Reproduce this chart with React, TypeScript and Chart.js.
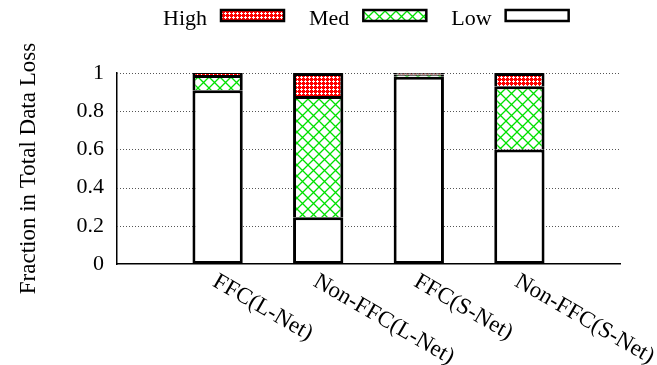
import React, { useEffect, useRef } from "react";
import { Chart, registerables } from "chart.js";

Chart.register(...registerables);

const categories = ["FFC(L-Net)", "Non-FFC(L-Net)", "FFC(S-Net)", "Non-FFC(S-Net)"];
const lowValues = [0.91, 0.245, 0.98, 0.6];
const medValues = [0.08, 0.635, 0.012, 0.33];
const highValues = [0.01, 0.12, 0.008, 0.07];
const yTicks = [0, 0.2, 0.4, 0.6, 0.8, 1];
const yTitle = "Fraction in Total Data Loss";
const legendLabels = ["High", "Med", "Low"];

const FONT = '"Liberation Serif", "Times New Roman", "DejaVu Serif", serif';

function makeMedPattern(): CanvasPattern | string {
  const c = document.createElement("canvas");
  c.width = 11;
  c.height = 11;
  const g = c.getContext("2d");
  if (!g) return "#ffffff";
  g.fillStyle = "#ffffff";
  g.fillRect(0, 0, 11, 11);
  g.strokeStyle = "#00e000";
  g.lineWidth = 1.3;
  g.beginPath();
  g.moveTo(-1, -1);
  g.lineTo(12, 12);
  g.moveTo(-1, 12);
  g.lineTo(12, -1);
  g.stroke();
  return g.createPattern(c, "repeat") || "#ffffff";
}

function makeHighPattern(): CanvasPattern | string {
  const c = document.createElement("canvas");
  c.width = 4;
  c.height = 4;
  const g = c.getContext("2d");
  if (!g) return "#ff0000";
  g.fillStyle = "#ff0000";
  g.fillRect(0, 0, 4, 4);
  g.fillStyle = "#ffffff";
  g.fillRect(1, 0, 1, 3);
  g.fillRect(0, 1, 3, 1);
  return g.createPattern(c, "repeat") || "#ff0000";
}

export default function App() {
  const ref = useRef<HTMLCanvasElement | null>(null);

  useEffect(() => {
    const canvas = ref.current;
    if (!canvas) return;
    const medPat = makeMedPattern();
    const highPat = makeHighPattern();

    const toPoints = (arr: number[]) => arr.map((v, i) => ({ x: i, y: v }));

    const gridPlugin = {
      id: "dottedGrid",
      beforeDatasetsDraw(chart: any) {
        const { ctx, chartArea, scales } = chart;
        ctx.save();
        ctx.strokeStyle = "#555555";
        ctx.lineWidth = 1;
        ctx.setLineDash([1, 2]);
        yTicks.forEach((t) => {
          if (t === 0) return;
          const y = Math.round(scales.y.getPixelForValue(t)) + 0.5;
          ctx.beginPath();
          ctx.moveTo(chartArea.left, y);
          ctx.lineTo(chartArea.right, y);
          ctx.stroke();
        });
        ctx.restore();
      },
    };

    const textPlugin = {
      id: "texts",
      afterDraw(chart: any) {
        const { ctx, chartArea, scales } = chart;
        ctx.save();
        ctx.fillStyle = "#000000";
        // x labels rotated clockwise
        ctx.font = `23px ${FONT}`;
        categories.forEach((label, i) => {
          const x = scales.x.getPixelForValue(i);
          ctx.save();
          ctx.translate(x - 3, chartArea.bottom + 16);
          ctx.rotate(Math.PI / 6);
          ctx.textAlign = "left";
          ctx.textBaseline = "middle";
          ctx.fillText(label, 0, 0);
          ctx.restore();
        });
        // y title
        ctx.save();
        ctx.font = `23px ${FONT}`;
        ctx.translate(35, (chartArea.top + chartArea.bottom) / 2);
        ctx.rotate(-Math.PI / 2);
        ctx.textAlign = "center";
        ctx.textBaseline = "alphabetic";
        ctx.fillText(yTitle, 0, 0);
        ctx.restore();
        // legend
        ctx.font = `22px ${FONT}`;
        ctx.textAlign = "left";
        ctx.textBaseline = "alphabetic";
        const fills = [highPat, medPat, "#ffffff"];
        let cx = 163;
        legendLabels.forEach((lab, i) => {
          ctx.fillStyle = "#000000";
          ctx.fillText(lab, cx, 25);
          cx += ctx.measureText(lab).width + 14;
          ctx.fillStyle = fills[i] as any;
          ctx.fillRect(cx, 10, 63, 11);
          ctx.strokeStyle = "#000000";
          ctx.lineWidth = 2.5;
          ctx.strokeRect(cx, 10, 63, 11);
          cx += 63 + 25;
        });
        ctx.restore();
      },
    };

    const chart = new Chart(canvas, {
      type: "bar",
      data: {
        datasets: [
          {
            label: "Low",
            data: toPoints(lowValues),
            backgroundColor: "#ffffff",
            borderColor: "#000000",
            borderWidth: 3,
            borderSkipped: false,
          },
          {
            label: "Med",
            data: toPoints(medValues),
            backgroundColor: medPat as any,
            borderColor: "#000000",
            borderWidth: 3,
          },
          {
            label: "High",
            data: toPoints(highValues),
            backgroundColor: highPat as any,
            borderColor: "#000000",
            borderWidth: 3,
          },
        ],
      },
      options: {
        responsive: false,
        animation: false,
        layout: { padding: { top: 73, right: 37, left: 0, bottom: 0 } },
        datasets: { bar: { barPercentage: 1, categoryPercentage: 0.5 } },
        plugins: { legend: { display: false }, tooltip: { enabled: false } },
        scales: {
          x: {
            type: "linear",
            min: -1,
            max: 4,
            stacked: true,
            offset: false,
            grid: { display: false, drawTicks: false },
            ticks: { display: false, stepSize: 1 },
            border: { display: true, color: "#000000", width: 1.5 },
            afterFit: (s: any) => {
              s.height = 101;
            },
          },
          y: {
            min: 0,
            max: 1,
            stacked: true,
            grid: { display: false, drawTicks: false },
            border: { display: true, color: "#000000", width: 1.5 },
            ticks: {
              stepSize: 0.2,
              padding: 13,
              color: "#000000",
              font: { family: FONT, size: 22 },
              callback: (v: any) => {
                const n = Math.round(Number(v) * 10) / 10;
                return String(n);
              },
            },
            afterFit: (s: any) => {
              s.width = 117;
            },
          },
        },
      },
      plugins: [gridPlugin, textPlugin],
    } as any);

    return () => chart.destroy();
  }, []);

  return (
    <div style={{ position: "fixed", left: 0, top: 0, width: 657, height: 365, background: "#ffffff" }}>
      <canvas ref={ref} width={657} height={365} style={{ display: "block", width: 657, height: 365 }} />
    </div>
  );
}
